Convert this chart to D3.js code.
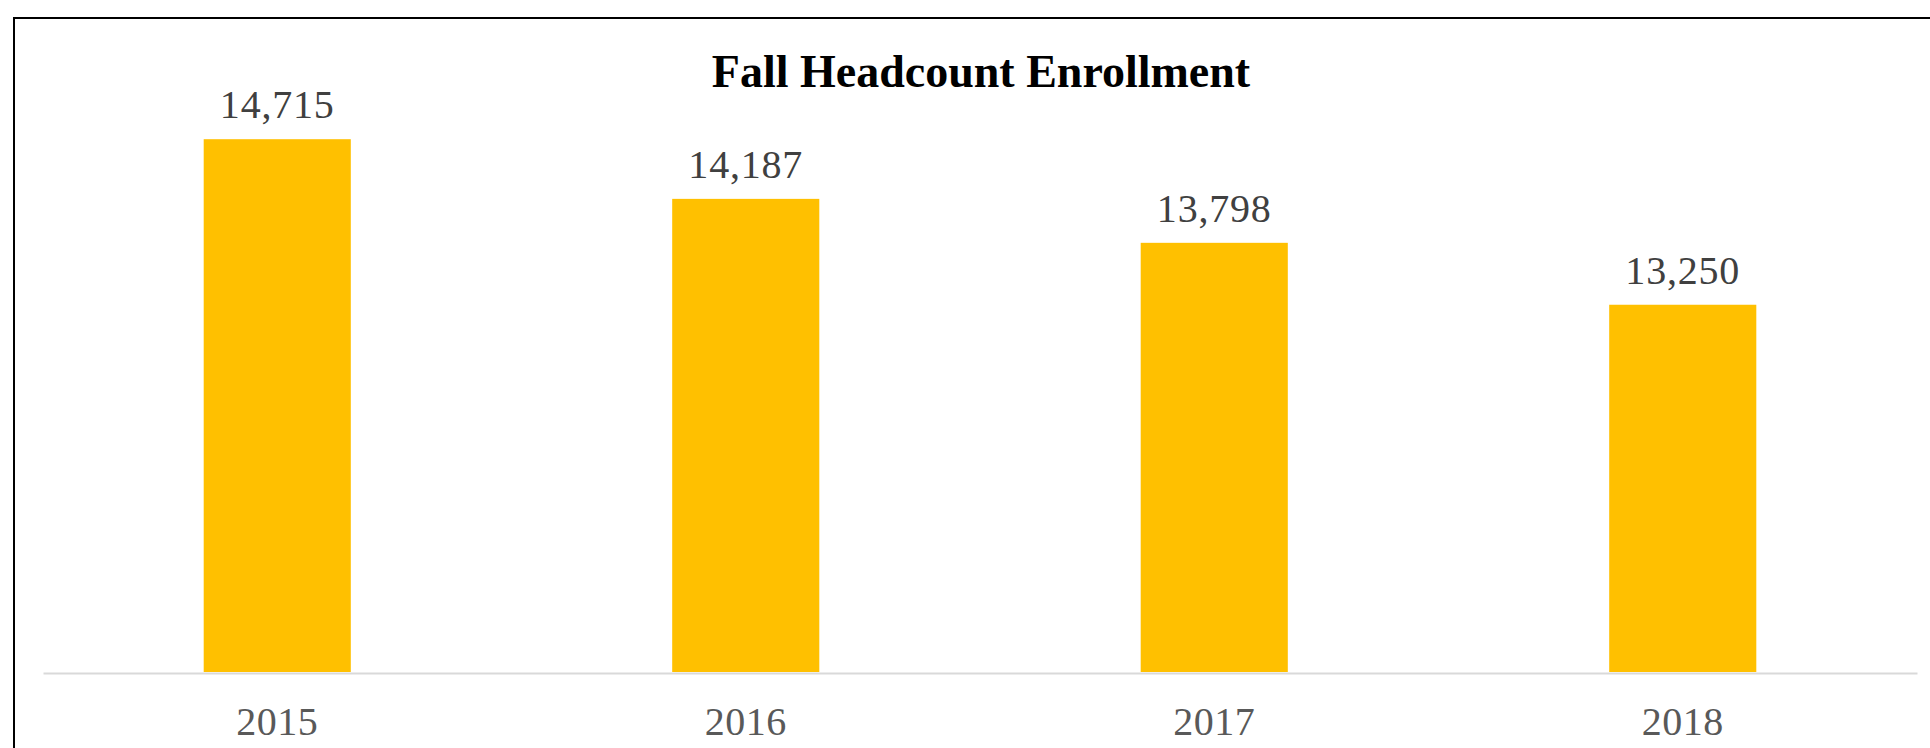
<!DOCTYPE html>
<html>
<head>
<meta charset="utf-8">
<script src="https://cdn.jsdelivr.net/npm/d3@7"></script>
<style>
  html, body { margin: 0; padding: 0; background: #fff; overflow: hidden; }
  svg { display: block; }
</style>
</head>
<body>
<div id="chart"></div>
<script>
const years = ["2015", "2016", "2017", "2018"];
const headcount = [14715, 14187, 13798, 13250];
const chartTitle = "Fall Headcount Enrollment";

const width = 1930;
const height = 748;
const margin = { top: 107, right: 13, bottom: 76, left: 43 };
const font = "'Liberation Serif', 'DejaVu Serif', serif";

const svg = d3
  .select("#chart")
  .append("svg")
  .attr("width", width)
  .attr("height", height);

// outer frame, cut off at right and bottom like the reference
svg
  .append("rect")
  .attr("x", 14)
  .attr("y", 18)
  .attr("width", width + 20)
  .attr("height", height + 20)
  .attr("fill", "none")
  .attr("stroke", "#000")
  .attr("stroke-width", 2);

const xScale = d3
  .scaleBand()
  .domain(years)
  .range([margin.left, width - margin.right])
  .paddingInner(0.686)
  .paddingOuter(0.343);

const yScale = d3
  .scaleLinear()
  .domain([10000, 15000])
  .range([height - margin.bottom, margin.top]);

svg
  .append("g")
  .selectAll("rect")
  .data(years)
  .enter()
  .append("rect")
  .attr("x", (d) => xScale(d))
  .attr("width", xScale.bandwidth())
  .attr("y", (d, i) => yScale(headcount[i]))
  .attr("height", (d, i) => yScale(10000) - yScale(headcount[i]))
  .attr("fill", "#ffc000");

const xAxis = d3.axisBottom(xScale).tickSize(0).tickPadding(0);

const axisG = svg
  .append("g")
  .attr("transform", `translate(0, ${yScale(10000) + 1})`)
  .call(xAxis);

axisG.select(".domain").attr("stroke", "#d9d9d9").attr("stroke-width", 2);
axisG
  .selectAll("text")
  .attr("dy", null)
  .attr("y", 62)
  .attr("font-family", font)
  .attr("font-size", 40)
  .attr("letter-spacing", 0.5)
  .attr("fill", "#595959");

svg
  .append("g")
  .selectAll("text")
  .data(years)
  .enter()
  .append("text")
  .attr("x", (d) => xScale(d) + xScale.bandwidth() / 2)
  .attr("y", (d, i) => yScale(headcount[i]) - 21)
  .attr("text-anchor", "middle")
  .attr("font-family", font)
  .attr("font-size", 40)
  .attr("letter-spacing", 0.8)
  .attr("fill", "#404040")
  .text((d, i) => d3.format(",")(headcount[i]));

svg
  .append("text")
  .attr("x", 981)
  .attr("y", 87)
  .attr("text-anchor", "middle")
  .attr("font-family", font)
  .attr("font-size", 46)
  .attr("font-weight", "bold")
  .attr("fill", "#000")
  .text(chartTitle);
</script>
</body>
</html>
